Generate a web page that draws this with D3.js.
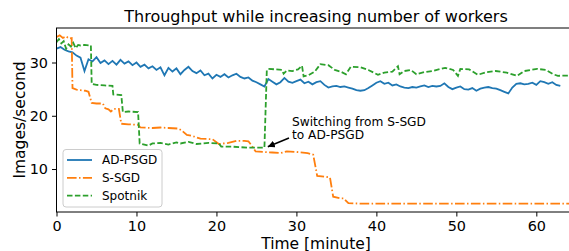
<!DOCTYPE html>
<html>
<head>
<meta charset="utf-8">
<script src="https://cdn.jsdelivr.net/npm/d3@7"></script>
<style>
  body { margin: 0; background: #fff; }
  svg { font-family: "DejaVu Sans", sans-serif; display: block; }
</style>
</head>
<body>
<svg width="569" height="251"></svg>
<script>
// AD-PSGD sampled every half minute
var adpsgdStep = 0.5;
var adpsgd = [
  32.6, 32.9, 32.4, 32.1, 31.9, 31.3, 30.9, 28.4, 30.6, 30.2,
  31.0, 29.9, 30.4, 29.7, 30.3, 29.6, 30.5, 29.8, 30.2, 29.5,
  30.0, 29.2, 29.6, 28.9, 29.3, 28.6, 29.1, 27.6, 29.0, 28.3,
  28.9, 27.8, 28.6, 29.2, 28.4, 28.0, 28.5, 27.6, 27.9, 27.0,
  27.7, 27.3, 27.8, 27.2, 27.6, 27.9, 27.3, 27.0, 27.2, 26.6,
  26.3, 25.9, 25.5, 26.9, 26.4, 25.9, 26.3, 27.1, 26.4, 26.2,
  26.5, 26.8, 26.1, 26.4, 25.9, 26.3, 26.5, 25.8, 25.3, 25.5,
  25.6, 25.4, 25.5, 25.3, 25.1, 24.8, 24.7, 24.8, 25.2, 25.7,
  26.2, 26.5, 26.0, 26.2, 25.7, 25.9, 25.5, 25.3, 25.2, 25.4,
  25.3, 25.5, 25.7, 25.4, 25.6, 25.5, 25.6, 26.1, 25.4, 25.0,
  25.3, 25.5, 25.0, 24.9, 25.2, 24.7, 25.1, 25.3, 25.4, 25.2,
  25.1, 24.8, 24.5, 24.2, 25.3, 26.0, 26.1, 25.9, 26.0, 26.2,
  25.8, 26.5, 26.3, 26.0, 26.3, 25.8, 25.6
];

var ssgdTime = [0, 0.4, 0.8, 1.2, 1.6, 1.9, 2.0, 2.5, 3.0, 3.6, 4.0, 4.4, 5.0, 5.8, 6.1, 6.5, 6.8, 7.2, 7.8,
  8.1, 9.0, 10.2, 10.5, 12, 13, 14, 15.2, 15.6, 16.3, 17, 18, 19.5, 20.3, 21.5, 22.5, 23.5, 24.0, 24.5, 24.9,
  26, 27, 28, 28.8, 30, 31.4, 32.1, 32.6, 33.8, 34.2, 34.6, 35.5, 35.9, 36.5, 38, 45, 55, 65];
var ssgd = [34.8, 35.1, 34.6, 34.9, 34.5, 34.6, 25.2, 24.9, 24.8, 24.7, 24.5, 22.4, 22.3, 22.3, 21.4, 21.2, 20.8, 21.3, 21.3,
  18.5, 18.4, 18.3, 17.8, 17.7, 17.8, 17.7, 17.6, 17.3, 16.4, 16.2, 15.7, 15.6, 14.7, 14.9, 15.3, 15.3, 15.2, 14.2, 13.3,
  13.2, 13.1, 13.0, 13.3, 13.2, 13.0, 12.7, 8.7, 8.5, 8.4, 4.8, 4.5, 4.5, 3.6, 3.5, 3.5, 3.5, 3.5];

var spotnikTime = [0, 0.3, 0.6, 0.9, 1.2, 1.5, 1.8, 2.1, 2.4, 2.7, 3.0, 3.5, 4.3, 4.4, 5, 6, 7.0, 7.1, 8.1, 8.3, 9,
  10.2, 10.4, 11.5, 12, 13, 14, 15, 15.5, 16.5, 17.5, 19, 20.3, 20.6, 22, 24, 26.0, 26.3,
  26.5, 27.5, 28.2, 28.4, 28.8, 29.5, 30.2, 30.7, 30.9, 31.5, 32.3, 33.0, 34.0, 34.8, 35.5, 36.2, 36.8, 38.0,
  39.0, 40.2, 41.0, 42.0, 42.7, 42.9, 43.5, 44.3, 45.0, 46.0, 47.0, 48.6, 49.6, 50.2, 50.5, 51.6, 52.7, 53.8,
  54.9, 56.3, 57.6, 58.5, 60.1, 61.2, 62.1, 62.7, 65];
var spotnik = [33.8, 34.4, 33.6, 34.0, 32.6, 33.4, 33.0, 33.7, 32.7, 33.3, 33.2, 33.3, 33.2, 26.0, 25.8, 25.7, 25.6, 24.0, 23.9, 20.7, 20.8,
  20.7, 14.8, 14.4, 14.8, 14.9, 14.6, 15.0, 14.8, 15.1, 14.7, 14.9, 14.8, 14.2, 14.2, 14.0, 14.0, 28.6,
  28.8, 28.7, 28.6, 27.9, 28.5, 28.4, 28.7, 29.4, 27.4, 27.6, 28.3, 29.7, 29.5, 28.6, 28.3, 27.8, 29.2, 29.1,
  28.6, 27.7, 28.1, 28.3, 29.3, 27.8, 28.4, 28.6, 27.8, 28.2, 28.4, 29.0, 28.6, 27.5, 28.8, 28.7, 27.7, 28.2,
  28.4, 28.1, 27.5, 28.4, 28.8, 28.6, 27.8, 27.5, 27.6];

var xTicks = [0, 10, 20, 30, 40, 50, 60];
var yTicks = [10, 20, 30];
var seriesNames = ["AD-PSGD", "S-SGD", "Spotnik"];
var seriesColors = ["#1f77b4", "#ff7f0e", "#2ca02c"];
var seriesDash = [null, "9.6,2.4,1.5,2.4", "5.5,2.4"];

var svg = d3.select("svg");

// plot box in pixels ("top" is taken by window.top, hence the prefix)
var boxLeft = 56.5, boxRight = 575.5, boxTop = 28, boxBottom = 212;

var x = d3.scaleLinear().domain([0, 64.9]).range([boxLeft, boxRight]);
var y = d3.scaleLinear().domain([1.93, 36.48]).range([boxBottom, boxTop]);

var defs = svg.append("defs");

defs.append("clipPath").attr("id", "plot-clip")
    .append("rect")
    .attr("x", boxLeft).attr("y", boxTop)
    .attr("width", boxRight - boxLeft).attr("height", boxBottom - boxTop);

var series = [
  adpsgd.map(function (v, i) { return [i * adpsgdStep, v]; }),
  ssgd.map(function (v, i) { return [ssgdTime[i], v]; }),
  spotnik.map(function (v, i) { return [spotnikTime[i], v]; })
];

var line = d3.line()
    .x(function (d) { return x(d[0]); })
    .y(function (d) { return y(d[1]); });

var plot = svg.append("g").attr("clip-path", "url(#plot-clip)");

plot.selectAll("path.series")
    .data(series)
  .enter().append("path")
    .attr("class", "series")
    .attr("d", line)
    .attr("fill", "none")
    .attr("stroke", function (d, i) { return seriesColors[i]; })
    .attr("stroke-width", 1.8)
    .attr("stroke-dasharray", function (d, i) { return seriesDash[i]; });

// axes
var xAxis = svg.append("g")
    .attr("transform", "translate(0," + boxBottom + ")")
    .call(d3.axisBottom(x).tickValues(xTicks).tickFormat(d3.format("d")).tickSize(4.5).tickPadding(4));

var yAxis = svg.append("g")
    .attr("transform", "translate(" + boxLeft + ",0)")
    .call(d3.axisLeft(y).tickValues(yTicks).tickFormat(d3.format("d")).tickSize(4.5).tickPadding(4));

[xAxis, yAxis].forEach(function (a) {
  a.select(".domain").remove();
  a.selectAll("text").attr("font-size", 14.4).attr("fill", "#000").attr("font-family", "DejaVu Sans");
  a.selectAll("line").attr("stroke", "#000").attr("stroke-width", 1);
});

// frame (right spine falls outside the picture)
svg.append("rect")
    .attr("x", boxLeft).attr("y", boxTop)
    .attr("width", boxRight - boxLeft).attr("height", boxBottom - boxTop)
    .attr("fill", "none")
    .attr("stroke", "#000")
    .attr("stroke-width", 1);

svg.append("text")
    .attr("x", (boxLeft + boxRight) / 2)
    .attr("y", 22)
    .attr("text-anchor", "middle")
    .attr("font-size", 16)
    .text("Throughput while increasing number of workers");

svg.append("text")
    .attr("x", (boxLeft + boxRight) / 2)
    .attr("y", 249)
    .attr("text-anchor", "middle")
    .attr("font-size", 15.5)
    .text("Time [minute]");

svg.append("text")
    .attr("transform", "translate(25," + (boxTop + boxBottom) / 2 + ") rotate(-90)")
    .attr("text-anchor", "middle")
    .attr("font-size", 15.5)
    .text("Images/second");

// annotation arrow pointing at the switch
defs.append("marker")
    .attr("id", "arrowhead")
    .attr("viewBox", "0 0 10 10")
    .attr("refX", 10).attr("refY", 5)
    .attr("markerWidth", 7).attr("markerHeight", 7)
    .attr("markerUnits", "userSpaceOnUse")
    .attr("orient", "auto")
  .append("path")
    .attr("d", "M0,0L10,5L0,10z")
    .attr("fill", "#000");

svg.append("line")
    .attr("x1", 289).attr("y1", 138)
    .attr("x2", x(26.3) + 1).attr("y2", y(14.0) - 1)
    .attr("stroke", "#000")
    .attr("stroke-width", 1.5)
    .attr("marker-end", "url(#arrowhead)");

var note = svg.append("text")
    .attr("x", 292)
    .attr("y", 126)
    .attr("font-size", 12.2);
note.append("tspan").attr("x", 292).text("Switching from S-SGD");
note.append("tspan").attr("x", 292).attr("dy", 12.5).text("to AD-PSGD");

// legend
var legend = svg.append("g");
legend.append("rect")
    .attr("x", 63).attr("y", 149.5)
    .attr("width", 99).attr("height", 57.5)
    .attr("rx", 3)
    .attr("fill", "#fff").attr("fill-opacity", 0.8)
    .attr("stroke", "#cccccc").attr("stroke-width", 1);

var item = legend.selectAll("g.item")
    .data(seriesNames)
  .enter().append("g")
    .attr("class", "item")
    .attr("transform", function (d, i) { return "translate(0," + (160 + i * 17.8) + ")"; });

item.append("line")
    .attr("x1", 67).attr("x2", 92)
    .attr("stroke", function (d, i) { return seriesColors[i]; })
    .attr("stroke-width", 1.8)
    .attr("stroke-dasharray", function (d, i) { return seriesDash[i]; });

item.append("text")
    .attr("x", 102)
    .attr("dy", "0.35em")
    .attr("font-size", 12)
    .text(function (d) { return d; });
</script>
</body>
</html>
